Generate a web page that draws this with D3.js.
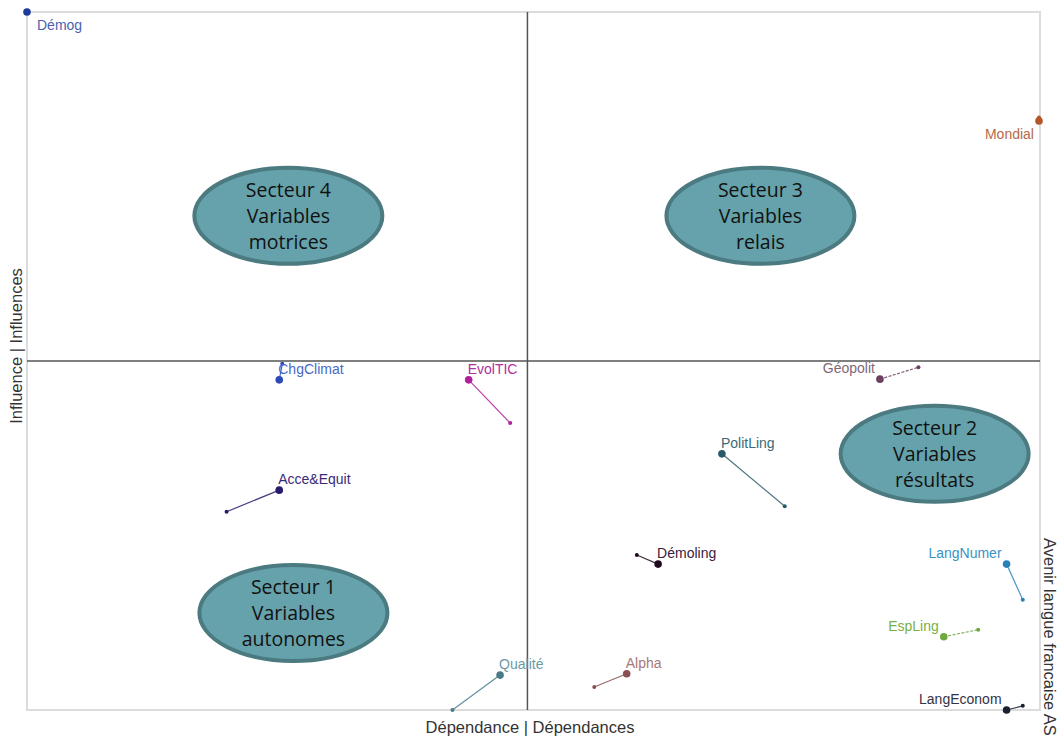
<!DOCTYPE html>
<html><head><meta charset="utf-8">
<script src="https://cdn.jsdelivr.net/npm/d3@7"></script>
<style>body{margin:0;background:#fff}svg{display:block}</style>
</head><body>
<svg id="c" width="1062" height="740"></svg>
<script>
// Variables (MICMAC plan influence / dépendance)
const variables = ["Démog","Mondial","ChgClimat","EvolTIC","Acce&Equit","Géopolit","PolitLing","Démoling","LangNumer","EspLing","Qualité","Alpha","LangEconom"];
// direct position (big dot)
const depDirect = [0, 99.9, 24.9, 43.6, 24.9, 84.2, 68.6, 62.3, 96.7, 90.5, 46.7, 59.2, 96.7];
const inflDirect = [100, 84.4, 47.3, 47.3, 31.5, 47.4, 36.7, 20.9, 20.9, 10.5, 5.0, 5.2, 0];
// indirect position (small dot)
const depIndirect = [0, 99.9, 25.2, 47.7, 19.7, 88.0, 74.8, 60.2, 98.3, 93.9, 42.0, 56.0, 98.3];
const inflIndirect = [100, 84.9, 49.6, 41.1, 28.4, 49.1, 29.2, 22.2, 15.8, 11.5, 0, 3.3, 0.6];
// quadrant split (mean dependence / influence)
const depMid = 49.4;
const inflMid = 50;
const colors = ["#1f3a9a","#b5552a","#2a4bb5","#b0209a","#2a1a6e","#6b4060","#2a5a6a","#200a20","#2a80b8","#70a840","#4a7a8a","#8a5050","#1a2030"];
const labelColors = ["#4a62b0","#b8684a","#4a68c8","#b030a0","#3a2a78","#806878","#3a6a78","#3a2040","#3a92c4","#78b048","#6a9aaa","#a87878","#333344"];
const labelPlace = ["se","sw","ne","ne","ne","nw","ne","ne","nw","nw","ne","ne","nw"];
const dashed = [false,false,false,false,false,true,false,false,false,true,false,false,false];
const sectors = [
  {lines:["Secteur 4","Variables","motrices"], dep:25.8, infl:70.8},
  {lines:["Secteur 3","Variables","relais"], dep:72.4, infl:70.8},
  {lines:["Secteur 2","Variables","résultats"], dep:89.6, infl:36.7},
  {lines:["Secteur 1","Variables","autonomes"], dep:26.3, infl:13.9}
];

const svg = d3.select("#c");
const L=27, R=1040, T=12, B=710;
const x = d3.scaleLinear().domain([0,100]).range([L,R]);
const y = d3.scaleLinear().domain([0,100]).range([B,T]);
const font = "'Liberation Sans', Arial, sans-serif";

// border
svg.append("rect").attr("x",L).attr("y",T).attr("width",R-L).attr("height",B-T)
  .attr("fill","none").attr("stroke","#dcdcdc").attr("stroke-width",2);
// center axes
svg.append("line").attr("x1",x(depMid)).attr("x2",x(depMid)).attr("y1",T).attr("y2",B).attr("stroke","#555").attr("stroke-width",1.5);
svg.append("line").attr("x1",L).attr("x2",R).attr("y1",y(inflMid)).attr("y2",y(inflMid)).attr("stroke","#555").attr("stroke-width",1.5);

// sector ellipses
const sg = svg.append("g").selectAll("g").data(sectors).join("g")
  .attr("transform", d=>`translate(${x(d.dep)},${y(d.infl)})`);
sg.append("ellipse").attr("rx",94).attr("ry",48).attr("fill","#66a2ab").attr("stroke","#4b7a80").attr("stroke-width",4);
sg.append("text").attr("text-anchor","middle").attr("font-family","'Open Sans', sans-serif").attr("font-size",19.5).attr("fill","#111")
  .selectAll("tspan").data(d=>d.lines).join("tspan").attr("x",0).attr("y",(d,i)=>-26+i*26).attr("dy","0.35em").text(d=>d);

// series
const idx = d3.range(variables.length);
const g = svg.append("g");
g.selectAll("line.m").data(idx).join("line").attr("class","m")
  .attr("x1",i=>x(depDirect[i])).attr("y1",i=>y(inflDirect[i]))
  .attr("x2",i=>x(depIndirect[i])).attr("y2",i=>y(inflIndirect[i]))
  .attr("stroke",i=>colors[i]).attr("stroke-width",1.2).attr("stroke-opacity",0.85)
  .attr("stroke-dasharray",i=>dashed[i]?"3,1.5":null);
g.selectAll("circle.s").data(idx).join("circle").attr("class","s")
  .attr("cx",i=>x(depIndirect[i])).attr("cy",i=>y(inflIndirect[i])).attr("r",2).attr("fill",i=>colors[i]);
g.selectAll("circle.b").data(idx).join("circle").attr("class","b")
  .attr("cx",i=>x(depDirect[i])).attr("cy",i=>y(inflDirect[i])).attr("r",3.8).attr("fill",i=>colors[i]);
g.selectAll("text.l").data(idx).join("text").attr("class","l")
  .attr("font-family",font).attr("font-size",14).attr("fill",i=>labelColors[i])
  .attr("text-anchor",i=>labelPlace[i][1]==="e"?"start":"end")
  .attr("x",i=>{const p=labelPlace[i]; const cx=x(depDirect[i]); if(p==="se")return cx+10; if(p==="sw")return cx-5; if(p==="ne")return cx-1; return cx-5;})
  .attr("y",i=>{const p=labelPlace[i]; const cy=y(inflDirect[i]); return p[0]==="s"?cy+18:cy-6;})
  .text(i=>variables[i]);

// axis titles
svg.append("text").attr("x",530).attr("y",733).attr("text-anchor","middle")
  .attr("font-family",font).attr("font-size",16.5).attr("fill","#333").text("Dépendance | Dépendances");
svg.append("text").attr("transform",`translate(22,346) rotate(-90)`).attr("text-anchor","middle")
  .attr("font-family",font).attr("font-size",16.5).attr("fill","#333").text("Influence | Influences");
svg.append("text").attr("transform",`translate(1044,538) rotate(90)`).attr("text-anchor","start")
  .attr("font-family",font).attr("font-size",16.5).attr("fill","#333").text("Avenir langue francaise AS");
</script>
</body></html>
